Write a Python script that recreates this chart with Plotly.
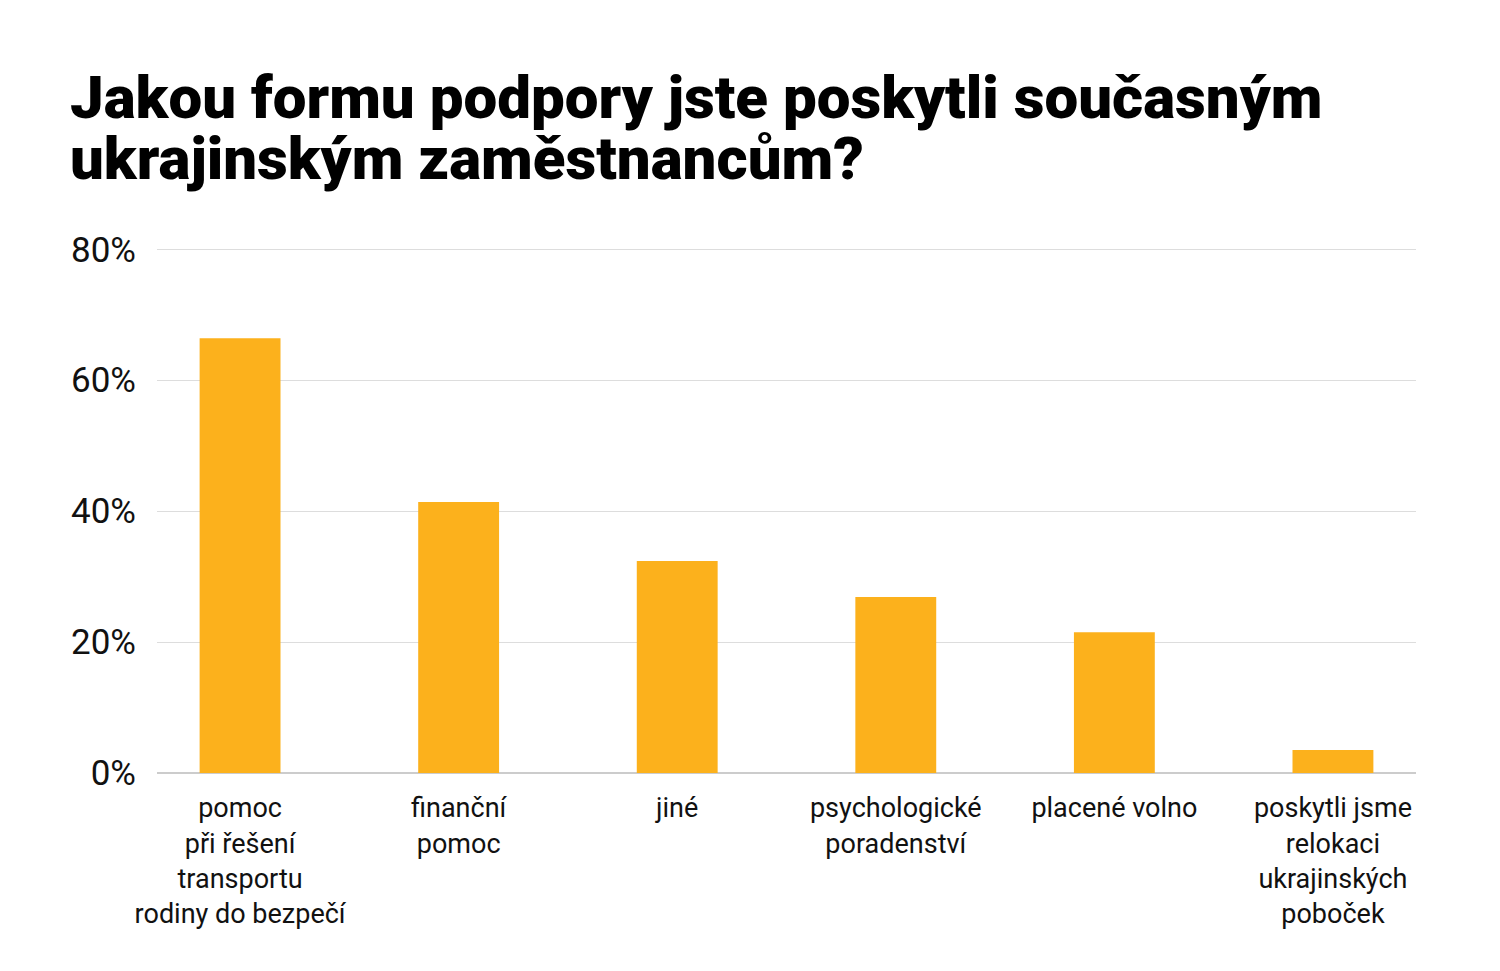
import plotly.graph_objects as go

title_lines = ["Jakou formu podpory jste poskytli současným",
               "ukrajinským zaměstnancům?"]
categories = ["pomoc<br>při řešení<br>transportu<br>rodiny do bezpečí",
              "finanční<br>pomoc",
              "jiné",
              "psychologické<br>poradenství",
              "placené volno",
              "poskytli jsme<br>relokaci<br>ukrajinských<br>poboček"]
values = [66.4, 41.4, 32.4, 26.9, 21.5, 3.5]
y_ticks = [0, 20, 40, 60, 80]
y_tick_labels = ["0%", "20%", "40%", "60%", "80%"]

# page body has an 8px margin; compensate in figure margins
W, H = 1500, 971
L, R, T, B = 149, 92, 238, 206

fig = go.Figure(go.Bar(
    x=list(range(len(categories))), y=values,
    marker=dict(color="#FCB11C", line=dict(width=0)),
    width=0.37, hoverinfo="skip"))

fig.update_layout(
    width=W, height=H,
    margin=dict(l=L, r=R, t=T, b=B),
    paper_bgcolor="white", plot_bgcolor="white",
    font=dict(family="Roboto", color="#111111"),
    showlegend=False,
    xaxis=dict(tickmode="array", tickvals=list(range(len(categories))),
               ticktext=categories, range=[-0.38, 5.38],
               tickfont=dict(size=27, color="#111111"),
               showgrid=False, zeroline=False, showline=False,
               ticks="outside", ticklen=11, tickcolor="rgba(0,0,0,0)"),
    yaxis=dict(tickmode="array", tickvals=y_ticks, ticktext=y_tick_labels,
               range=[0, 80.5], tickfont=dict(size=35, color="#111111"),
               showgrid=True, gridcolor="#dddddd", gridwidth=1,
               zeroline=True, zerolinecolor="#cccccc", zerolinewidth=1.5,
               ticks="outside", ticklen=13, tickcolor="rgba(0,0,0,0)"),
)

plot_w = W - L - R
plot_h = H - T - B
for i, line in enumerate(title_lines):
    fig.add_annotation(
        text=line, xref="paper", yref="paper",
        x=(60 - L) / plot_w, y=1 + (T - 89 - 61 * i) / plot_h,
        xanchor="left", yanchor="middle", showarrow=False,
        font=dict(family="Roboto", size=60, color="#000000", weight=900))

fig.write_html("out.html")
